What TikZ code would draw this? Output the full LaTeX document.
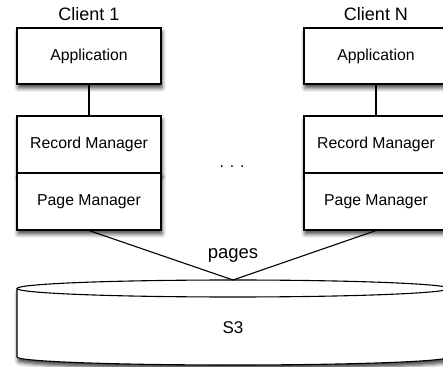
\documentclass[tikz,border=0pt]{standalone}
\usepackage{fontspec}
\setmainfont{Liberation Sans}
\usetikzlibrary{positioning,shadows.blur}
\begin{document}
\begin{tikzpicture}[x=1pt,y=1pt,
  shad/.style={blur shadow={shadow xshift=1pt,shadow yshift=-4pt,shadow blur radius=4pt,shadow opacity=75}},
  box/.style={draw,line width=1.1pt,fill=white,minimum width=144pt,inner sep=0pt,font=\fontsize{15.8}{19}\selectfont},
  tall/.style={box,minimum height=56pt},
  half/.style={box,minimum height=57pt},
  lbl/.style={font=\fontsize{18}{21}\selectfont,inner sep=0pt},
  conn/.style={line width=1.1pt}]
\useasboundingbox (0,0) rectangle (443,366);
\clip (0,0) rectangle (443,366);
% Client 1
\node[tall,shad] (app1) at (89,310) {Application};
\node[half,shad] (rec1) at (89,221.5) {Record Manager};
\node[half,shad] (page1) at (89,164.5) {Page Manager};
\node[lbl,above=7pt of app1] (c1) {Client 1};
% Client N
\node[tall,shad] (appN) at (376,310) {Application};
\node[half,shad] (recN) at (376,221.5) {Record Manager};
\node[half,shad] (pageN) at (376,164.5) {Page Manager};
\node[lbl,above=7pt of appN] (cN) {Client N};
\draw[conn] (app1.south) -- (rec1.north);
\draw[conn] (appN.south) -- (recN.north);
\node[font=\fontsize{15.8}{19}\selectfont] (dots) at (232,199) {. . .};
% S3 cylinder
\path[draw,line width=1.1pt,fill=white,shad] (17,77.5) -- (17,9)
  arc[start angle=180,end angle=360,x radius=216pt,y radius=8pt]
  -- (449,77.5)
  arc[start angle=0,end angle=180,x radius=216pt,y radius=8.5pt] -- cycle;
\draw[line width=1.1pt] (17,77.5) arc[start angle=180,end angle=360,x radius=216pt,y radius=8.5pt];
\node[font=\fontsize{17}{20}\selectfont] (s3) at (233,38) {S3};
\coordinate (s3top) at (233,86);
\draw[conn] (page1.south) -- (s3top);
\draw[conn] (pageN.south) -- (s3top);
\node[lbl,font=\fontsize{18.5}{21}\selectfont] (pages) at (233,111) {pages};
\end{tikzpicture}
\end{document}
